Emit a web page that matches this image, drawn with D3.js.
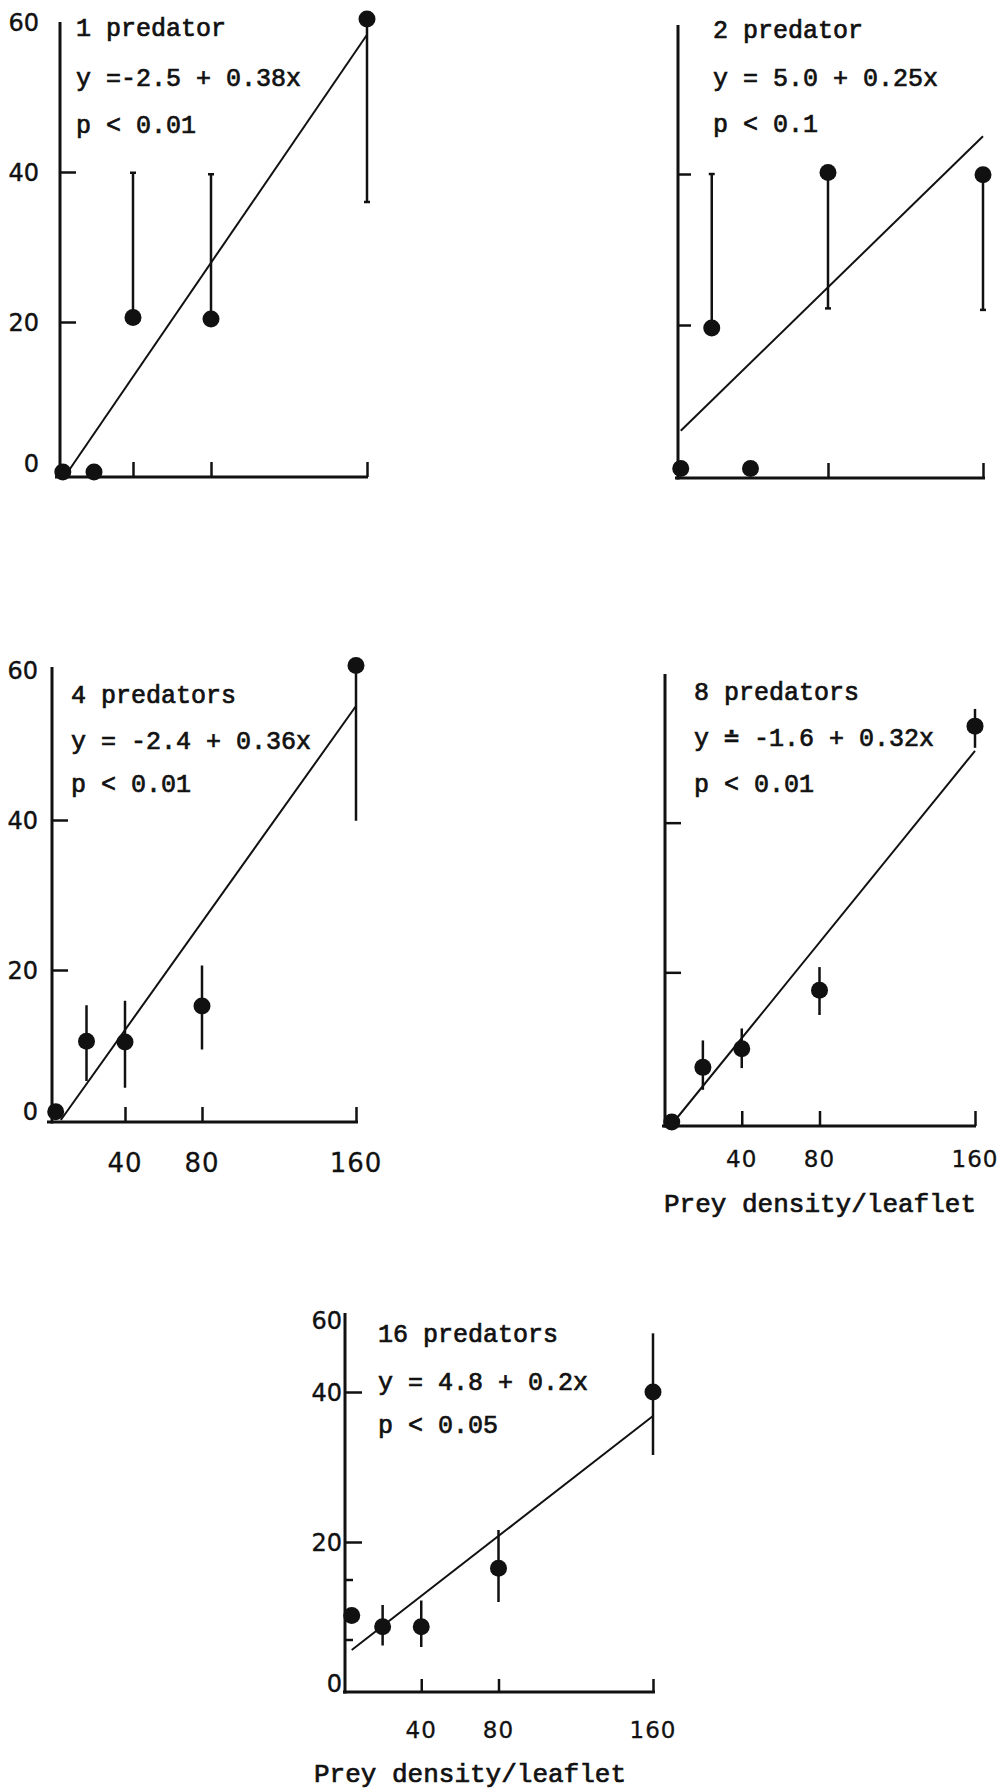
<!DOCTYPE html>
<html>
<head>
<meta charset="utf-8">
<script src="https://cdn.jsdelivr.net/npm/d3@7/dist/d3.min.js"></script>
<style>
  html, body { margin: 0; padding: 0; background: #ffffff; }
  svg { display: block; }
</style>
</head>
<body>
<svg id="fig" width="1006" height="1791"></svg>
<script>
// ---- data -------------------------------------------------------------
// Prey densities offered per leaflet (x values, same for every panel)
const preyDensity = [4, 20, 40, 80, 160];

// One entry per predator density panel
const panelTitles = ["1 predator", "2 predator", "4 predators", "8 predators", "16 predators"];
const equationLabels = ["y =-2.5 + 0.38x", "y = 5.0 + 0.25x", "y = -2.4 + 0.36x", "y \u2250 -1.6 + 0.32x", "y = 4.8 + 0.2x"];
const pLabels = ["p < 0.01", "p < 0.1", "p < 0.01", "p < 0.01", "p < 0.05"];
const intercepts = [-2.5, 5.0, -2.4, -1.6, 4.8];
const slopes = [0.38, 0.25, 0.36, 0.32, 0.2];

// Prey eaten: mean per prey density, and the low / high end of each error bar
const meanEaten = [
  [0, 0, 20.6, 20.4, 60.4],
  [1, 19.6, 1, 40.2, 39.9],
  [1.1, 10.5, 10.4, 15.2, 60.6],
  [0, 7.3, 9.8, 17.6, 52.9],
  [10.2, 8.7, 8.7, 16.5, 40]
];
const barLow = [
  [0, 0, 20.6, 20.4, 36],
  [1, 19.6, 1, 22.2, 22],
  [1.1, 5.2, 4.3, 9.4, 39.9],
  [0, 4.3, 7.2, 14.3, 50],
  [10.2, 6.2, 6, 12, 31.6]
];
const barHigh = [
  [0, 0, 39.9, 39.7, 60.4],
  [1, 40, 1, 40.2, 39.9],
  [1.1, 15.3, 15.9, 20.6, 60.6],
  [0, 10.9, 12.5, 20.7, 55.2],
  [10.2, 11.6, 12.2, 21.6, 56.3]
];

// Axis tick values and labels
const yTickLabels = [0, 20, 40, 60];
const yTickMarks = [20, 40];
const yMinorMarks = [7, 15];
const xTickMarks = [40, 80, 160];
const xTickMarksPanel2 = [80, 160];
const xTickLabels = [40, 80, 160];
const xAxisTitle = "Prey density/leaflet";

// ---- layout (pixel placement of each panel) ----------------------------
const layout = [
  { xr: [55, 367], yDom: [0, 60], yr: [472, 22], axisX: 60, axisTop: 22, axisY: 477, axisL: 55, axisR: 368,
    yLen: 16, yLabels: true, labelX: 39, xTicks: xTickMarks, xLen: 15, xLabels: false,
    textX: 76, textY: [36, 86, 133], caps: true },
  { xr: [673, 983], yDom: [0, 60], yr: [476, 23], axisX: 678, axisTop: 25, axisY: 478, axisL: 675, axisR: 985,
    yLen: 13, yLabels: false, xTicks: xTickMarksPanel2, xLen: 15, xLabels: false,
    textX: 713, textY: [38, 86, 132], caps: true },
  { xr: [48, 356], yDom: [0, 60], yr: [1120, 670], axisX: 52, axisTop: 667, axisY: 1122, axisL: 47, axisR: 358,
    yLen: 16, yLabels: true, labelX: 38, xTicks: xTickMarks, xLen: 15, xLabels: true, xLabelY: 1172, xLabelSize: 26,
    textX: 71, textY: [703, 749, 792], caps: false },
  { xr: [664, 975], yDom: [0, 60], yr: [1122, 673], axisX: 665, axisTop: 674, axisY: 1126, axisL: 662, axisR: 976,
    yLen: 16, yLabels: false, xTicks: xTickMarks, xLen: 15, xLabels: true, xLabelY: 1167, xLabelSize: 23,
    titleY: 1212, titleX: 820,
    textX: 694, textY: [700, 746, 792], caps: false },
  { xr: [344, 653], yDom: [0, 40, 60], yr: [1692, 1392, 1320], axisX: 345, axisTop: 1313, axisY: 1692, axisL: 343, axisR: 655,
    yLen: 17, minor: yMinorMarks, yLabels: true, labelX: 342, xTicks: xTickMarks, xLen: 13, xLabels: true, xLabelY: 1738, xLabelSize: 23,
    titleY: 1782, titleX: 470,
    textX: 378, textY: [1342, 1390, 1433], caps: false }
];

const INK = "#111";
const monoFont = "'Liberation Mono', 'DejaVu Sans Mono', monospace";
const labelFont = "'DejaVu Sans', 'Liberation Sans', sans-serif";

const svg = d3.select("#fig");
svg.append("rect").attr("width", 1006).attr("height", 1791).attr("fill", "#fff");

layout.forEach((L, i) => {
  const g = svg.append("g").attr("class", "panel");
  const x = d3.scaleLinear().domain([0, 160]).range(L.xr);
  const y = d3.scaleLinear().domain(L.yDom).range(L.yr);

  // frame: vertical and horizontal axis lines
  g.append("line")
    .attr("x1", L.axisX).attr("x2", L.axisX)
    .attr("y1", L.axisTop).attr("y2", L.axisY + 1.5)
    .attr("stroke", INK).attr("stroke-width", 3);
  g.append("line")
    .attr("x1", L.axisL).attr("x2", L.axisR)
    .attr("y1", L.axisY).attr("y2", L.axisY)
    .attr("stroke", INK).attr("stroke-width", 3);

  // inward y tick marks
  const yAx = g.append("g")
    .attr("transform", `translate(${L.axisX},0)`)
    .call(d3.axisRight(y).tickValues(yTickMarks).tickSize(L.yLen).tickFormat(""));
  yAx.select(".domain").remove();
  yAx.selectAll(".tick line").attr("stroke", INK).attr("stroke-width", 2.5);

  if (L.minor) {
    const mAx = g.append("g")
      .attr("transform", `translate(${L.axisX},0)`)
      .call(d3.axisRight(y).tickValues(L.minor).tickSize(8).tickFormat(""));
    mAx.select(".domain").remove();
    mAx.selectAll(".tick line").attr("stroke", INK).attr("stroke-width", 2.5);
  }

  // y tick labels
  if (L.yLabels) {
    g.selectAll("text.ylab").data(yTickLabels).join("text")
      .attr("class", "ylab")
      .attr("x", L.labelX)
      .attr("y", d => y(d) - (d === 0 ? 9 : 0))
      .attr("dy", "0.36em")
      .attr("text-anchor", "end")
      .attr("font-family", labelFont)
      .attr("font-size", 24)
      .attr("stroke", INK).attr("stroke-width", 0.4)
      .attr("fill", INK)
      .text(d => d);
  }

  // inward x tick marks
  const xAx = g.append("g")
    .attr("transform", `translate(0,${L.axisY})`)
    .call(d3.axisTop(x).tickValues(L.xTicks).tickSize(L.xLen).tickFormat(""));
  xAx.select(".domain").remove();
  xAx.selectAll(".tick line").attr("stroke", INK).attr("stroke-width", 2.5);

  // x tick labels
  if (L.xLabels) {
    g.selectAll("text.xlab").data(xTickLabels).join("text")
      .attr("class", "xlab")
      .attr("x", d => x(d))
      .attr("y", L.xLabelY)
      .attr("text-anchor", "middle")
      .attr("font-family", labelFont)
      .attr("font-size", L.xLabelSize)
      .attr("letter-spacing", 1)
      .attr("stroke", INK).attr("stroke-width", 0.3)
      .attr("fill", INK)
      .text(d => d);
  }

  if (L.titleY) {
    g.append("text")
      .attr("x", L.titleX).attr("y", L.titleY)
      .attr("text-anchor", "middle")
      .attr("font-family", monoFont)
      .attr("font-size", 26)
      .attr("stroke", INK).attr("stroke-width", 0.7)
      .attr("fill", INK)
      .text(xAxisTitle);
  }

  // fitted regression line y = a + b x
  const a = intercepts[i], b = slopes[i];
  const xStart = Math.max(preyDensity[0], -a / b);
  const fit = [xStart, 160].map(v => [v, a + b * v]);
  g.append("path")
    .datum(fit)
    .attr("d", d3.line().x(d => x(d[0])).y(d => y(d[1])))
    .attr("fill", "none")
    .attr("stroke", INK)
    .attr("stroke-width", 2);

  // error bars
  const pts = preyDensity.map((d, k) => ({
    d, m: meanEaten[i][k], lo: barLow[i][k], hi: barHigh[i][k]
  }));
  const bars = pts.filter(p => p.hi - p.lo > 0.01);
  g.selectAll("line.bar").data(bars).join("line")
    .attr("class", "bar")
    .attr("x1", p => x(p.d)).attr("x2", p => x(p.d))
    .attr("y1", p => y(p.lo)).attr("y2", p => y(p.hi))
    .attr("stroke", INK).attr("stroke-width", 2.5);
  if (L.caps) {
    const ends = [];
    bars.forEach(p => {
      if (p.hi > p.m + 0.01) ends.push({ d: p.d, v: p.hi });
      if (p.lo < p.m - 0.01) ends.push({ d: p.d, v: p.lo });
    });
    g.selectAll("line.cap").data(ends).join("line")
      .attr("class", "cap")
      .attr("x1", e => x(e.d) - 3).attr("x2", e => x(e.d) + 3)
      .attr("y1", e => y(e.v)).attr("y2", e => y(e.v))
      .attr("stroke", INK).attr("stroke-width", 2.5);
  }

  // means
  g.selectAll("circle.mean").data(pts).join("circle")
    .attr("class", "mean")
    .attr("cx", p => x(p.d))
    .attr("cy", p => y(p.m))
    .attr("r", 8.5)
    .attr("fill", INK);

  // panel annotation
  [panelTitles[i], equationLabels[i], pLabels[i]].forEach((t, k) => {
    g.append("text")
      .attr("x", L.textX)
      .attr("y", L.textY[k])
      .attr("font-family", monoFont)
      .attr("font-size", 25)
      .attr("stroke", INK).attr("stroke-width", 0.7)
      .attr("fill", INK)
      .attr("xml:space", "preserve")
      .text(t);
  });
});
</script>
</body>
</html>
